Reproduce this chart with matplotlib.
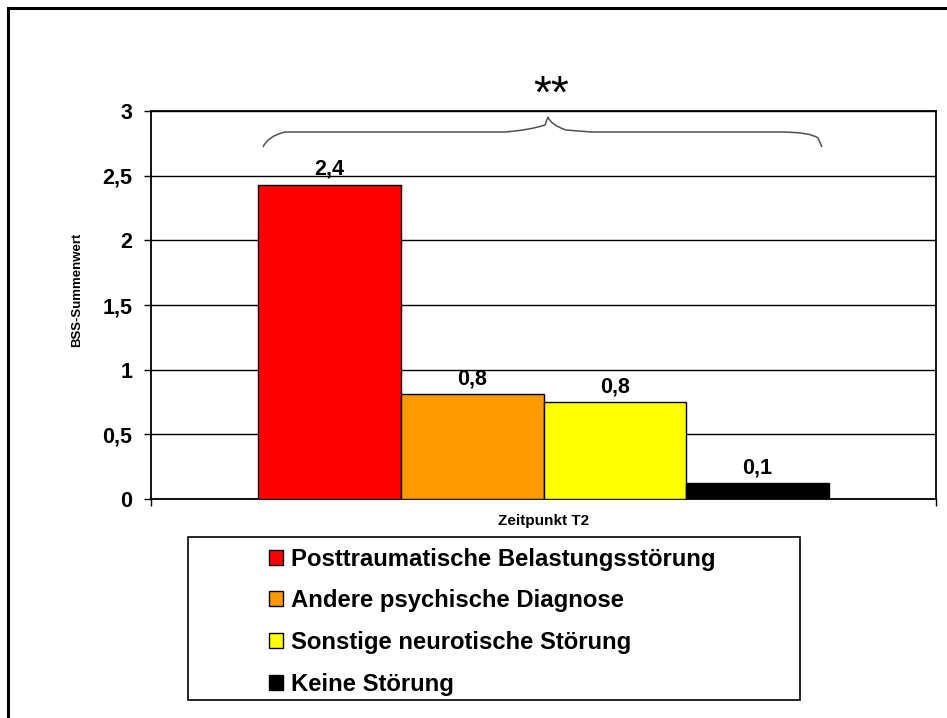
import matplotlib
matplotlib.use("Agg")
import matplotlib.pyplot as plt
from matplotlib.path import Path
from matplotlib.patches import PathPatch, Rectangle
from matplotlib.lines import Line2D

# --- data -------------------------------------------------------------
category = "Zeitpunkt T2"
series_names = [
    "Posttraumatische Belastungsstörung",
    "Andere psychische Diagnose",
    "Sonstige neurotische Störung",
    "Keine Störung",
]
series_values = [2.43, 0.81, 0.75, 0.12]
series_colors = ["#FF0000", "#FF9900", "#FFFF00", "#000000"]
y_ticks = [0, 0.5, 1, 1.5, 2, 2.5, 3]
y_tick_labels = ["0", "0,5", "1", "1,5", "2", "2,5", "3"]
y_label = "BSS-Summenwert"
significance = "**"

W, H = 947, 718
DPI = 100
plt.rcParams["font.family"] = ["Liberation Sans", "DejaVu Sans"]
plt.rcParams["font.weight"] = "bold"

fig = plt.figure(figsize=(W / DPI, H / DPI), dpi=DPI)
fig.patch.set_facecolor("white")


def px(x, y):
    """pixel position (from top-left) -> figure fraction"""
    return x / W, 1 - y / H


# plot area
ax_l, ax_r, ax_t, ax_b = 151, 936, 111, 499
ax = fig.add_axes([ax_l / W, 1 - ax_b / H, (ax_r - ax_l) / W, (ax_b - ax_t) / H])

# one category spanning [0, 1]; bars share it with 150 % gap width
n = len(series_values)
bw = 1 / (n + 1.5)
x0 = 0.75 * bw
bars = []
for i, (name, val, col) in enumerate(zip(series_names, series_values, series_colors)):
    xc = x0 + (i + 0.5) * bw
    b = ax.bar(xc, val, width=bw, color=col, edgecolor="black", linewidth=1.0,
               label=name, zorder=3)
    bars.append(b)
    ax.annotate(f"{val:.1f}".replace(".", ","), xy=(xc, val), xytext=(0, 7),
                textcoords="offset points", ha="center", va="baseline",
                fontsize=15.5, fontweight="bold", zorder=4)

ax.set_xlim(0, 1)
ax.set_ylim(0, 3)
ax.set_yticks(y_ticks)
ax.set_yticklabels(y_tick_labels)
ax.yaxis.grid(True, color="black", linewidth=1.0, zorder=0)
ax.set_axisbelow(True)
ax.tick_params(axis="y", direction="out", length=5, width=1, pad=8.5,
               labelsize=15.5)
for lab in ax.get_yticklabels():
    lab.set_fontweight("bold")

# category boundaries as major ticks, category name as a minor tick label
ax.set_xticks([0, 1])
ax.set_xticklabels(["", ""])
ax.tick_params(axis="x", which="major", direction="out", length=5, width=1)
ax.set_xticks([0.5], minor=True)
ax.set_xticklabels([category], minor=True)
ax.tick_params(axis="x", which="minor", length=0, pad=10.5, labelsize=11)
for lab in ax.get_xticklabels(minor=True):
    lab.set_fontweight("bold")

for s in ax.spines.values():
    s.set_color("black")
    s.set_linewidth(1.3)

fig.text(*px(77, 290), y_label, rotation=90, ha="center", va="center",
         fontsize=9.5, fontweight="bold")

# significance brace spanning all groups
brace_pts = [(263, 147), (268, 136), (285, 132), (310, 132),
             (490, 132), (490, 132), (505, 132),
             (530, 130), (545, 125), (548, 117),
             (551, 125), (566, 130), (591, 132),
             (600, 132), (780, 132), (780, 132),
             (810, 132), (818, 138), (822, 147)]
codes = [Path.MOVETO, Path.CURVE3, Path.CURVE3, Path.LINETO,
         Path.LINETO, Path.LINETO, Path.LINETO,
         Path.CURVE3, Path.CURVE3, Path.LINETO,
         Path.CURVE3, Path.CURVE3, Path.LINETO,
         Path.LINETO, Path.LINETO, Path.LINETO,
         Path.CURVE3, Path.CURVE3, Path.LINETO]
verts = [px(x, y) for x, y in brace_pts]
fig.patches.append(PathPatch(Path(verts, codes), transform=fig.transFigure,
                             fill=False, edgecolor="#505050", linewidth=1.1))
fig.text(*px(551, 108), significance, ha="center", va="baseline",
         fontsize=33, fontweight="normal")

# legend: frame drawn separately, entries placed inside it
lg_l, lg_t, lg_r, lg_b = 188, 537, 800, 700
fig.patches.append(Rectangle(px(lg_l, lg_b), (lg_r - lg_l) / W, (lg_b - lg_t) / H,
                             transform=fig.transFigure, facecolor="white",
                             edgecolor="black", linewidth=1.2, zorder=2))
leg = fig.legend(handles=[b[0] for b in bars], labels=series_names,
                 loc="upper left", bbox_to_anchor=px(252, 531), frameon=False,
                 fontsize=17.2, handlelength=0.58, handleheight=0.58,
                 handletextpad=0.35, labelspacing=0.78, borderpad=0.2)
for t in leg.get_texts():
    t.set_fontweight("bold")
leg.set_zorder(3)

# outer frame (left and top edges)
fig.add_artist(Line2D([px(8, 0)[0], px(8, 0)[0]], [px(0, 8)[1], 0],
                      transform=fig.transFigure, color="black", linewidth=2.2))
fig.add_artist(Line2D([px(8, 0)[0], 1], [px(0, 8)[1], px(0, 8)[1]],
                      transform=fig.transFigure, color="black", linewidth=2.2))

fig.savefig("out.png", dpi=DPI)
